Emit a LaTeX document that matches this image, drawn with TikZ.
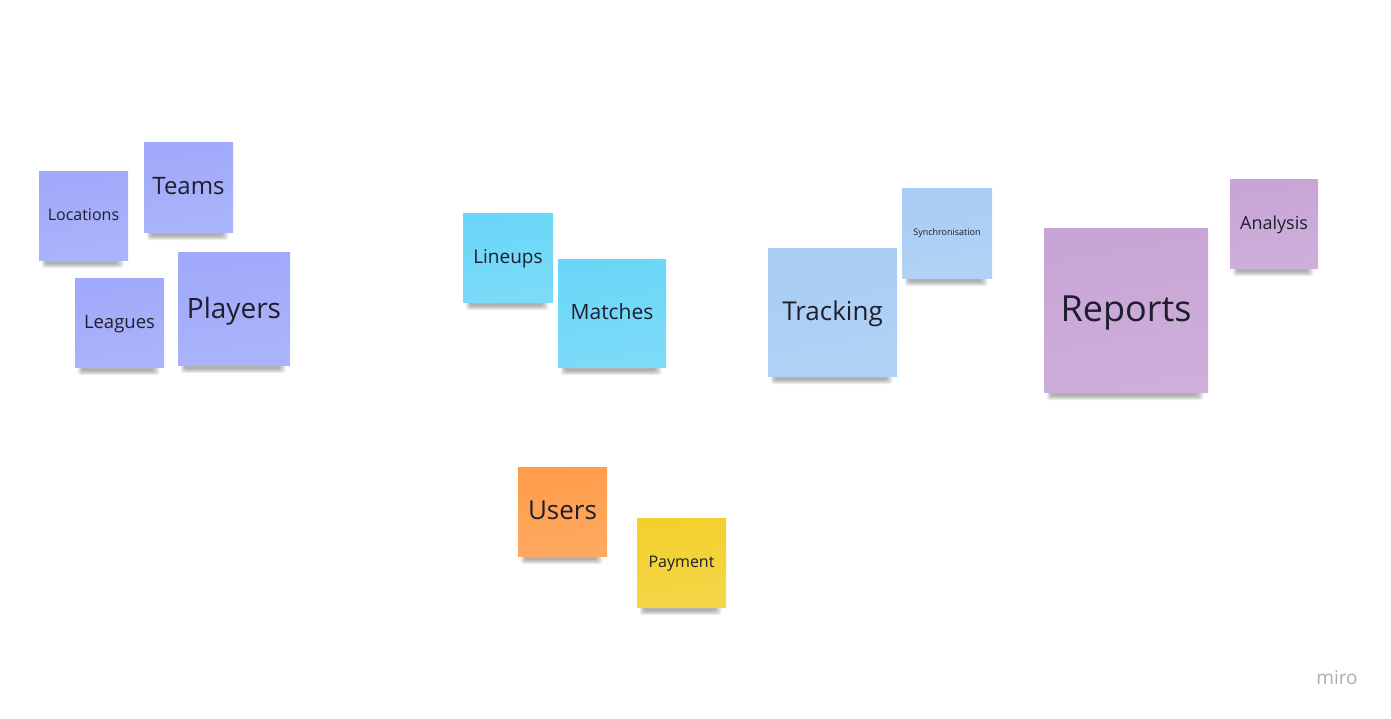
\documentclass[tikz,border=0pt]{standalone}
\usepackage{fontspec}
\setmainfont{Open Sans}
\usetikzlibrary{backgrounds}
\definecolor{violet}{HTML}{A0A9FA}
\definecolor{cyan}{HTML}{6AD6F7}
\definecolor{skyblue}{HTML}{A8CCF4}
\definecolor{lilac}{HTML}{C7A4D5}
\definecolor{orange}{HTML}{FF9D4A}
\definecolor{yellow}{HTML}{F3D02E}
\definecolor{ink}{HTML}{1E1E2C}
\newcommand{\fsz}[1]{\fontsize{#1}{#1}\selectfont}
\begin{document}
\begin{tikzpicture}[x=1pt,y=-1pt,
  note/.style={inner sep=0pt,minimum width=89pt,minimum height=89pt,text=ink,
    top color=#1,bottom color=#1!88!white,shading angle=10,text depth=0.2em},
  shade/.style={fill=black,opacity=0.07,rounded corners=3pt}]
\useasboundingbox (0,0) rectangle (1391,718);
% violet group
\node[note=violet,font=\fsz{16}] (loc) at (83.5,215.5) {Locations};
\node[note=violet,font=\fsz{24},minimum height=90pt] (teams) at (188.5,187) {Teams};
\node[note=violet,font=\fsz{18.5}] (leagues) at (119.5,322.5) {Leagues};
\node[note=violet,font=\fsz{28},minimum width=112pt,minimum height=113pt] (players) at (234,308.5) {Players};
% cyan group
\node[note=cyan,font=\fsz{19},minimum width=90pt] (lineups) at (508,257.5) {Lineups};
\node[note=cyan,font=\fsz{21},minimum width=108pt,minimum height=108pt] (matches) at (612,313) {Matches};
% blue group
\node[note=skyblue,font=\fsz{26},minimum width=129pt,minimum height=128pt] (tracking) at (832.5,312) {Tracking};
\node[note=skyblue,font=\fsz{9},minimum width=90pt,minimum height=90pt] (sync) at (947,233) {Synchronisation};
% lilac group
\node[note=lilac,font=\fsz{36},minimum width=164pt,minimum height=164pt] (reports) at (1126,310) {Reports};
\node[note=lilac,font=\fsz{18},minimum width=88pt] (analysis) at (1274,223.5) {Analysis};
% users
\node[note=orange,font=\fsz{26}] (users) at (562.5,511.5) {Users};
\node[note=yellow,font=\fsz{16}] (payment) at (681.5,562.5) {Payment};
\node[text=black!32,font=\fsz{19}] (miro) at (1337,678) {miro};
\begin{scope}[on background layer]
\foreach \n in {loc,teams,leagues,players,lineups,matches,tracking,sync,reports,analysis,users,payment}
  \foreach \k in {1,...,5}
    \fill[shade] ([xshift=2pt+\k pt,yshift=-9pt+\k pt]\n.south west)
      rectangle ([xshift=-3pt-1.5*\k pt,yshift=2pt]\n.south east);
\end{scope}
\end{tikzpicture}
\end{document}
